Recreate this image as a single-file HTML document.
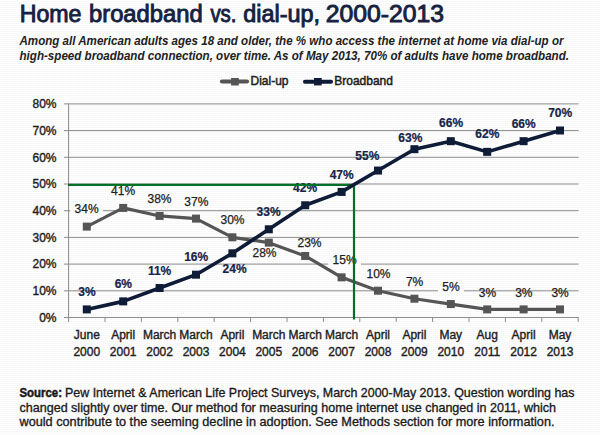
<!DOCTYPE html>
<html><head><meta charset="utf-8"><style>
html,body{margin:0;padding:0;background:#fff;width:600px;height:435px;overflow:hidden}
svg{display:block;font-family:"Liberation Sans", sans-serif}
</style></head><body>
<svg width="600" height="435" viewBox="0 0 600 435">
<defs><pattern id="bgp" width="2" height="2" patternUnits="userSpaceOnUse"><rect x="1" y="1" width="1" height="1" fill="#f6f6f6"/><rect x="0" y="1" width="1" height="1" fill="#fbfbfb"/><rect x="1" y="0" width="1" height="1" fill="#fdfdfd"/></pattern></defs>
<rect width="600" height="435" fill="#fff"/>
<rect width="600" height="435" fill="url(#bgp)"/>
<line x1="64" y1="317.50" x2="578.6" y2="317.50" stroke="#8c8c8c" stroke-width="1"/>
<line x1="64" y1="290.80" x2="578.6" y2="290.80" stroke="#8c8c8c" stroke-width="1"/>
<line x1="64" y1="264.10" x2="578.6" y2="264.10" stroke="#8c8c8c" stroke-width="1"/>
<line x1="64" y1="237.40" x2="578.6" y2="237.40" stroke="#8c8c8c" stroke-width="1"/>
<line x1="64" y1="210.70" x2="578.6" y2="210.70" stroke="#8c8c8c" stroke-width="1"/>
<line x1="64" y1="184.00" x2="578.6" y2="184.00" stroke="#8c8c8c" stroke-width="1"/>
<line x1="64" y1="157.30" x2="578.6" y2="157.30" stroke="#8c8c8c" stroke-width="1"/>
<line x1="64" y1="130.60" x2="578.6" y2="130.60" stroke="#8c8c8c" stroke-width="1"/>
<line x1="64" y1="103.90" x2="578.6" y2="103.90" stroke="#8c8c8c" stroke-width="1"/>
<line x1="68.6" y1="103.5" x2="68.6" y2="317.5" stroke="#8c8c8c" stroke-width="1"/>
<line x1="68.60" y1="317" x2="68.60" y2="322" stroke="#8c8c8c" stroke-width="1"/>
<line x1="105.00" y1="317" x2="105.00" y2="322" stroke="#8c8c8c" stroke-width="1"/>
<line x1="141.40" y1="317" x2="141.40" y2="322" stroke="#8c8c8c" stroke-width="1"/>
<line x1="177.80" y1="317" x2="177.80" y2="322" stroke="#8c8c8c" stroke-width="1"/>
<line x1="214.20" y1="317" x2="214.20" y2="322" stroke="#8c8c8c" stroke-width="1"/>
<line x1="250.60" y1="317" x2="250.60" y2="322" stroke="#8c8c8c" stroke-width="1"/>
<line x1="287.00" y1="317" x2="287.00" y2="322" stroke="#8c8c8c" stroke-width="1"/>
<line x1="323.40" y1="317" x2="323.40" y2="322" stroke="#8c8c8c" stroke-width="1"/>
<line x1="359.80" y1="317" x2="359.80" y2="322" stroke="#8c8c8c" stroke-width="1"/>
<line x1="396.20" y1="317" x2="396.20" y2="322" stroke="#8c8c8c" stroke-width="1"/>
<line x1="432.60" y1="317" x2="432.60" y2="322" stroke="#8c8c8c" stroke-width="1"/>
<line x1="469.00" y1="317" x2="469.00" y2="322" stroke="#8c8c8c" stroke-width="1"/>
<line x1="505.40" y1="317" x2="505.40" y2="322" stroke="#8c8c8c" stroke-width="1"/>
<line x1="541.80" y1="317" x2="541.80" y2="322" stroke="#8c8c8c" stroke-width="1"/>
<line x1="578.20" y1="317" x2="578.20" y2="322" stroke="#8c8c8c" stroke-width="1"/>
<text x="56.5" y="321.80" text-anchor="end" font-size="12" fill="#1e1e1e" stroke="#1e1e1e" stroke-width="0.38">0%</text>
<text x="56.5" y="295.10" text-anchor="end" font-size="12" fill="#1e1e1e" stroke="#1e1e1e" stroke-width="0.38">10%</text>
<text x="56.5" y="268.40" text-anchor="end" font-size="12" fill="#1e1e1e" stroke="#1e1e1e" stroke-width="0.38">20%</text>
<text x="56.5" y="241.70" text-anchor="end" font-size="12" fill="#1e1e1e" stroke="#1e1e1e" stroke-width="0.38">30%</text>
<text x="56.5" y="215.00" text-anchor="end" font-size="12" fill="#1e1e1e" stroke="#1e1e1e" stroke-width="0.38">40%</text>
<text x="56.5" y="188.30" text-anchor="end" font-size="12" fill="#1e1e1e" stroke="#1e1e1e" stroke-width="0.38">50%</text>
<text x="56.5" y="161.60" text-anchor="end" font-size="12" fill="#1e1e1e" stroke="#1e1e1e" stroke-width="0.38">60%</text>
<text x="56.5" y="134.90" text-anchor="end" font-size="12" fill="#1e1e1e" stroke="#1e1e1e" stroke-width="0.38">70%</text>
<text x="56.5" y="108.20" text-anchor="end" font-size="12" fill="#1e1e1e" stroke="#1e1e1e" stroke-width="0.38">80%</text>
<text x="86.80" y="339" text-anchor="middle" font-size="12" fill="#1e1e1e" stroke="#1e1e1e" stroke-width="0.38">June</text>
<text x="86.80" y="355.6" text-anchor="middle" font-size="12" fill="#1e1e1e" stroke="#1e1e1e" stroke-width="0.38">2000</text>
<text x="123.20" y="339" text-anchor="middle" font-size="12" fill="#1e1e1e" stroke="#1e1e1e" stroke-width="0.38">April</text>
<text x="123.20" y="355.6" text-anchor="middle" font-size="12" fill="#1e1e1e" stroke="#1e1e1e" stroke-width="0.38">2001</text>
<text x="159.60" y="339" text-anchor="middle" font-size="12" fill="#1e1e1e" stroke="#1e1e1e" stroke-width="0.38">March</text>
<text x="159.60" y="355.6" text-anchor="middle" font-size="12" fill="#1e1e1e" stroke="#1e1e1e" stroke-width="0.38">2002</text>
<text x="196.00" y="339" text-anchor="middle" font-size="12" fill="#1e1e1e" stroke="#1e1e1e" stroke-width="0.38">March</text>
<text x="196.00" y="355.6" text-anchor="middle" font-size="12" fill="#1e1e1e" stroke="#1e1e1e" stroke-width="0.38">2003</text>
<text x="232.40" y="339" text-anchor="middle" font-size="12" fill="#1e1e1e" stroke="#1e1e1e" stroke-width="0.38">April</text>
<text x="232.40" y="355.6" text-anchor="middle" font-size="12" fill="#1e1e1e" stroke="#1e1e1e" stroke-width="0.38">2004</text>
<text x="268.80" y="339" text-anchor="middle" font-size="12" fill="#1e1e1e" stroke="#1e1e1e" stroke-width="0.38">March</text>
<text x="268.80" y="355.6" text-anchor="middle" font-size="12" fill="#1e1e1e" stroke="#1e1e1e" stroke-width="0.38">2005</text>
<text x="305.20" y="339" text-anchor="middle" font-size="12" fill="#1e1e1e" stroke="#1e1e1e" stroke-width="0.38">March</text>
<text x="305.20" y="355.6" text-anchor="middle" font-size="12" fill="#1e1e1e" stroke="#1e1e1e" stroke-width="0.38">2006</text>
<text x="341.60" y="339" text-anchor="middle" font-size="12" fill="#1e1e1e" stroke="#1e1e1e" stroke-width="0.38">March</text>
<text x="341.60" y="355.6" text-anchor="middle" font-size="12" fill="#1e1e1e" stroke="#1e1e1e" stroke-width="0.38">2007</text>
<text x="378.00" y="339" text-anchor="middle" font-size="12" fill="#1e1e1e" stroke="#1e1e1e" stroke-width="0.38">April</text>
<text x="378.00" y="355.6" text-anchor="middle" font-size="12" fill="#1e1e1e" stroke="#1e1e1e" stroke-width="0.38">2008</text>
<text x="414.40" y="339" text-anchor="middle" font-size="12" fill="#1e1e1e" stroke="#1e1e1e" stroke-width="0.38">April</text>
<text x="414.40" y="355.6" text-anchor="middle" font-size="12" fill="#1e1e1e" stroke="#1e1e1e" stroke-width="0.38">2009</text>
<text x="450.80" y="339" text-anchor="middle" font-size="12" fill="#1e1e1e" stroke="#1e1e1e" stroke-width="0.38">May</text>
<text x="450.80" y="355.6" text-anchor="middle" font-size="12" fill="#1e1e1e" stroke="#1e1e1e" stroke-width="0.38">2010</text>
<text x="487.20" y="339" text-anchor="middle" font-size="12" fill="#1e1e1e" stroke="#1e1e1e" stroke-width="0.38">Aug</text>
<text x="487.20" y="355.6" text-anchor="middle" font-size="12" fill="#1e1e1e" stroke="#1e1e1e" stroke-width="0.38">2011</text>
<text x="523.60" y="339" text-anchor="middle" font-size="12" fill="#1e1e1e" stroke="#1e1e1e" stroke-width="0.38">April</text>
<text x="523.60" y="355.6" text-anchor="middle" font-size="12" fill="#1e1e1e" stroke="#1e1e1e" stroke-width="0.38">2012</text>
<text x="560.00" y="339" text-anchor="middle" font-size="12" fill="#1e1e1e" stroke="#1e1e1e" stroke-width="0.38">May</text>
<text x="560.00" y="355.6" text-anchor="middle" font-size="12" fill="#1e1e1e" stroke="#1e1e1e" stroke-width="0.38">2013</text>
<polyline points="86.80,226.62 123.20,207.93 159.60,215.94 196.00,218.61 232.40,237.30 268.80,242.64 305.20,255.99 341.60,277.35 378.00,290.70 414.40,298.71 450.80,304.05 487.20,309.39 523.60,309.39 560.00,309.39" fill="none" stroke="#555555" stroke-width="3.2" stroke-linejoin="round"/>
<rect x="82.80" y="222.62" width="8" height="8" fill="#555555"/>
<rect x="119.20" y="203.93" width="8" height="8" fill="#555555"/>
<rect x="155.60" y="211.94" width="8" height="8" fill="#555555"/>
<rect x="192.00" y="214.61" width="8" height="8" fill="#555555"/>
<rect x="228.40" y="233.30" width="8" height="8" fill="#555555"/>
<rect x="264.80" y="238.64" width="8" height="8" fill="#555555"/>
<rect x="301.20" y="251.99" width="8" height="8" fill="#555555"/>
<rect x="337.60" y="273.35" width="8" height="8" fill="#555555"/>
<rect x="374.00" y="286.70" width="8" height="8" fill="#555555"/>
<rect x="410.40" y="294.71" width="8" height="8" fill="#555555"/>
<rect x="446.80" y="300.05" width="8" height="8" fill="#555555"/>
<rect x="483.20" y="305.39" width="8" height="8" fill="#555555"/>
<rect x="519.60" y="305.39" width="8" height="8" fill="#555555"/>
<rect x="556.00" y="305.39" width="8" height="8" fill="#555555"/>
<rect x="70.30" y="202.00" width="32.60" height="15" fill="#fff"/>
<rect x="70.30" y="202.00" width="32.60" height="15" fill="url(#bgp)"/>
<text x="86.60" y="213.00" text-anchor="middle" font-size="12" fill="#1e1e1e" stroke="#1e1e1e" stroke-width="0.25">34%</text>
<text x="123.10" y="194.50" text-anchor="middle" font-size="12" fill="#1e1e1e" stroke="#1e1e1e" stroke-width="0.25">41%</text>
<text x="159.50" y="202.80" text-anchor="middle" font-size="12" fill="#1e1e1e" stroke="#1e1e1e" stroke-width="0.25">38%</text>
<text x="196.30" y="206.10" text-anchor="middle" font-size="12" fill="#1e1e1e" stroke="#1e1e1e" stroke-width="0.25">37%</text>
<text x="232.50" y="224.40" text-anchor="middle" font-size="12" fill="#1e1e1e" stroke="#1e1e1e" stroke-width="0.25">30%</text>
<text x="264.50" y="256.70" text-anchor="middle" font-size="12" fill="#1e1e1e" stroke="#1e1e1e" stroke-width="0.25">28%</text>
<text x="309.50" y="246.70" text-anchor="middle" font-size="12" fill="#1e1e1e" stroke="#1e1e1e" stroke-width="0.25">23%</text>
<rect x="328.30" y="252.80" width="32.60" height="15" fill="#fff"/>
<rect x="328.30" y="252.80" width="32.60" height="15" fill="url(#bgp)"/>
<text x="344.60" y="263.80" text-anchor="middle" font-size="12" fill="#1e1e1e" stroke="#1e1e1e" stroke-width="0.25">15%</text>
<text x="378.50" y="277.60" text-anchor="middle" font-size="12" fill="#1e1e1e" stroke="#1e1e1e" stroke-width="0.25">10%</text>
<text x="414.60" y="285.80" text-anchor="middle" font-size="12" fill="#1e1e1e" stroke="#1e1e1e" stroke-width="0.25">7%</text>
<rect x="437.95" y="279.70" width="25.90" height="15" fill="#fff"/>
<rect x="437.95" y="279.70" width="25.90" height="15" fill="url(#bgp)"/>
<text x="450.90" y="290.70" text-anchor="middle" font-size="12" fill="#1e1e1e" stroke="#1e1e1e" stroke-width="0.25">5%</text>
<text x="487.40" y="296.50" text-anchor="middle" font-size="12" fill="#1e1e1e" stroke="#1e1e1e" stroke-width="0.25">3%</text>
<text x="523.80" y="296.50" text-anchor="middle" font-size="12" fill="#1e1e1e" stroke="#1e1e1e" stroke-width="0.25">3%</text>
<text x="560.10" y="296.50" text-anchor="middle" font-size="12" fill="#1e1e1e" stroke="#1e1e1e" stroke-width="0.25">3%</text>
<text x="87.00" y="296.40" text-anchor="middle" font-size="12" font-weight="bold" fill="#16244a" stroke="#16244a" stroke-width="0.22">3%</text>
<text x="123.30" y="288.00" text-anchor="middle" font-size="12" font-weight="bold" fill="#16244a" stroke="#16244a" stroke-width="0.22">6%</text>
<text x="159.60" y="274.90" text-anchor="middle" font-size="12" font-weight="bold" fill="#16244a" stroke="#16244a" stroke-width="0.22">11%</text>
<text x="196.20" y="261.00" text-anchor="middle" font-size="12" font-weight="bold" fill="#16244a" stroke="#16244a" stroke-width="0.22">16%</text>
<text x="234.60" y="272.50" text-anchor="middle" font-size="12" font-weight="bold" fill="#16244a" stroke="#16244a" stroke-width="0.22">24%</text>
<text x="268.60" y="216.20" text-anchor="middle" font-size="12" font-weight="bold" fill="#16244a" stroke="#16244a" stroke-width="0.22">33%</text>
<text x="305.10" y="192.30" text-anchor="middle" font-size="12" font-weight="bold" fill="#16244a" stroke="#16244a" stroke-width="0.22">42%</text>
<text x="341.70" y="178.70" text-anchor="middle" font-size="12" font-weight="bold" fill="#16244a" stroke="#16244a" stroke-width="0.22">47%</text>
<text x="367.30" y="159.60" text-anchor="middle" font-size="12" font-weight="bold" fill="#16244a" stroke="#16244a" stroke-width="0.22">55%</text>
<text x="410.30" y="142.20" text-anchor="middle" font-size="12" font-weight="bold" fill="#16244a" stroke="#16244a" stroke-width="0.22">63%</text>
<text x="451.10" y="127.20" text-anchor="middle" font-size="12" font-weight="bold" fill="#16244a" stroke="#16244a" stroke-width="0.22">66%</text>
<text x="487.30" y="138.00" text-anchor="middle" font-size="12" font-weight="bold" fill="#16244a" stroke="#16244a" stroke-width="0.22">62%</text>
<text x="523.70" y="127.50" text-anchor="middle" font-size="12" font-weight="bold" fill="#16244a" stroke="#16244a" stroke-width="0.22">66%</text>
<text x="560.20" y="116.90" text-anchor="middle" font-size="12" font-weight="bold" fill="#16244a" stroke="#16244a" stroke-width="0.22">70%</text>
<line x1="68" y1="184.9" x2="355" y2="184.9" stroke="#007028" stroke-width="2.2"/>
<line x1="354" y1="184" x2="354" y2="319.5" stroke="#007028" stroke-width="2.2"/>
<polyline points="86.80,309.39 123.20,301.38 159.60,288.03 196.00,274.68 232.40,253.32 268.80,229.29 305.20,205.26 341.60,191.91 378.00,170.55 414.40,149.19 450.80,141.18 487.20,151.86 523.60,141.18 560.00,130.50" fill="none" stroke="#0f1c38" stroke-width="3.6" stroke-linejoin="round"/>
<rect x="82.80" y="305.39" width="8" height="8" fill="#0f1c38"/>
<rect x="119.20" y="297.38" width="8" height="8" fill="#0f1c38"/>
<rect x="155.60" y="284.03" width="8" height="8" fill="#0f1c38"/>
<rect x="192.00" y="270.68" width="8" height="8" fill="#0f1c38"/>
<rect x="228.40" y="249.32" width="8" height="8" fill="#0f1c38"/>
<rect x="264.80" y="225.29" width="8" height="8" fill="#0f1c38"/>
<rect x="301.20" y="201.26" width="8" height="8" fill="#0f1c38"/>
<rect x="337.60" y="187.91" width="8" height="8" fill="#0f1c38"/>
<rect x="374.00" y="166.55" width="8" height="8" fill="#0f1c38"/>
<rect x="410.40" y="145.19" width="8" height="8" fill="#0f1c38"/>
<rect x="446.80" y="137.18" width="8" height="8" fill="#0f1c38"/>
<rect x="483.20" y="147.86" width="8" height="8" fill="#0f1c38"/>
<rect x="519.60" y="137.18" width="8" height="8" fill="#0f1c38"/>
<rect x="556.00" y="126.50" width="8" height="8" fill="#0f1c38"/>
<line x1="222" y1="81.5" x2="247" y2="81.5" stroke="#555555" stroke-width="4.2" stroke-linecap="round"/>
<rect x="231.1" y="78" width="7.7" height="7.5" fill="#555555"/>
<text x="250.5" y="85.2" font-size="12.2" fill="#1e1e1e" stroke="#1e1e1e" stroke-width="0.5" textLength="38" lengthAdjust="spacingAndGlyphs">Dial-up</text>
<line x1="305" y1="81.7" x2="331" y2="81.7" stroke="#0f1c38" stroke-width="4.1" stroke-linecap="round"/>
<rect x="314" y="78" width="7.7" height="7.4" fill="#0f1c38"/>
<text x="334.3" y="85.2" font-size="12.2" fill="#1e1e1e" stroke="#1e1e1e" stroke-width="0.5" textLength="58.6" lengthAdjust="spacingAndGlyphs">Broadband</text>
<text x="19.70" y="21.9" font-size="23.1" fill="#14213f" stroke="#14213f" stroke-width="0.88" textLength="61.80" lengthAdjust="spacingAndGlyphs">Home</text>
<text x="89.00" y="21.9" font-size="23.1" fill="#14213f" stroke="#14213f" stroke-width="0.88" textLength="113.70" lengthAdjust="spacingAndGlyphs">broadband</text>
<text x="210.40" y="21.9" font-size="23.1" fill="#14213f" stroke="#14213f" stroke-width="0.88" textLength="26.10" lengthAdjust="spacingAndGlyphs">vs.</text>
<text x="243.30" y="21.9" font-size="23.1" fill="#14213f" stroke="#14213f" stroke-width="0.88" textLength="76.70" lengthAdjust="spacingAndGlyphs">dial-up,</text>
<text x="325.70" y="21.9" font-size="23.1" fill="#14213f" stroke="#14213f" stroke-width="0.88" textLength="118.20" lengthAdjust="spacingAndGlyphs">2000-2013</text>
<text x="19.5" y="45" font-size="12.2" font-weight="bold" font-style="italic" fill="#222222" textLength="544" lengthAdjust="spacingAndGlyphs">Among all American adults ages 18 and older, the % who access the internet at home via dial-up or</text>
<text x="19.5" y="59.7" font-size="12.2" font-weight="bold" font-style="italic" fill="#222222" textLength="549.5" lengthAdjust="spacingAndGlyphs">high-speed broadband connection, over time. As of May 2013, 70% of adults have home broadband.</text>
<text x="19.5" y="396.7" font-size="12.2" font-weight="bold" fill="#1a1a1a" stroke="#1a1a1a" stroke-width="0.5" textLength="42.5" lengthAdjust="spacingAndGlyphs">Source:</text>
<text x="65" y="396.7" font-size="12.2" fill="#1a1a1a" stroke="#1a1a1a" stroke-width="0.32" textLength="509.5" lengthAdjust="spacingAndGlyphs">Pew Internet &amp; American Life Project Surveys, March 2000-May 2013. Question wording has</text>
<text x="19.5" y="411.7" font-size="12.2" fill="#1a1a1a" stroke="#1a1a1a" stroke-width="0.32" textLength="536.5" lengthAdjust="spacingAndGlyphs">changed slightly over time. Our method for measuring home internet use changed in 2011, which</text>
<text x="19.5" y="426.2" font-size="12.2" fill="#1a1a1a" stroke="#1a1a1a" stroke-width="0.32" textLength="535" lengthAdjust="spacingAndGlyphs">would contribute to the seeming decline in adoption. See Methods section for more information.</text>
</svg>
</body></html>
